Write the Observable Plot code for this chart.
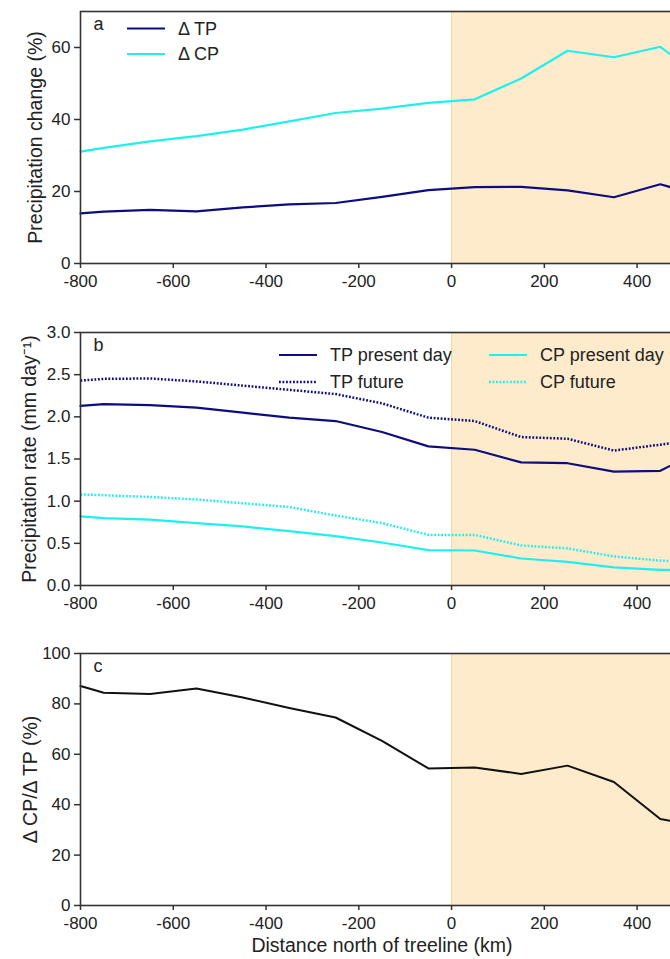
<!DOCTYPE html>
<html>
<head>
<meta charset="utf-8">
<script src="https://cdn.jsdelivr.net/npm/d3@7"></script>
<script src="https://cdn.jsdelivr.net/npm/@observablehq/plot@0.6"></script>
<style>
  html, body { margin: 0; padding: 0; background: #fff; overflow: hidden; width: 670px; height: 959px; }
  #wrap { position: relative; width: 670px; height: 959px; overflow: hidden; font-family: "Liberation Sans", Arial, sans-serif; }
  .panel { position: absolute; left: 0; width: 700px; }
  .panel svg { max-width: none !important; width: 700px; }
  #legend { position: absolute; left: 0; top: 0; pointer-events: none; }
</style>
</head>
<body>
<div id="wrap">
  <div class="panel" id="pa" style="top:0px"></div>
  <div class="panel" id="pb" style="top:300px"></div>
  <div class="panel" id="pc" style="top:620px"></div>
</div>
<script>
// ---------- data ----------
const distance = [-800, -750, -650, -550, -450, -350, -250, -150, -50, 50, 150, 250, 350, 450, 500];

// panel a: precipitation change (%)
const deltaTP = [13.9, 14.4, 14.9, 14.5, 15.6, 16.4, 16.8, 18.5, 20.4, 21.2, 21.3, 20.3, 18.4, 22.0, 20.2];
const deltaCP = [31.1, 32.1, 33.9, 35.4, 37.2, 39.5, 41.8, 43.0, 44.6, 45.6, 51.4, 59.1, 57.3, 60.2, 55.4];

// panel b: precipitation rate (mm/day)
const tpPresent = [2.13, 2.15, 2.14, 2.11, 2.05, 1.99, 1.95, 1.82, 1.65, 1.61, 1.46, 1.45, 1.35, 1.36, 1.50];
const tpFuture  = [2.43, 2.45, 2.455, 2.42, 2.37, 2.32, 2.27, 2.16, 1.99, 1.95, 1.76, 1.74, 1.60, 1.67, 1.71];
const cpPresent = [0.82, 0.80, 0.78, 0.74, 0.70, 0.645, 0.585, 0.51, 0.42, 0.415, 0.32, 0.28, 0.215, 0.185, 0.185];
const cpFuture  = [1.08, 1.07, 1.05, 1.02, 0.975, 0.93, 0.83, 0.74, 0.60, 0.60, 0.475, 0.44, 0.345, 0.295, 0.28];

// panel c: ΔCP/ΔTP (%)
const ratio = [87.1, 84.4, 83.9, 86.1, 82.5, 78.4, 74.6, 65.3, 54.4, 54.8, 52.2, 55.5, 49.0, 34.3, 32.6];

// axes
const xDomain = [-800, 500];
const xTicks = [-800, -600, -400, -200, 0, 200, 400];
const shadeRange = [0, 500];
const yDomainA = [0, 70], yTicksA = [0, 20, 40, 60];
const yDomainB = [0, 3], yTicksB = [0, 0.5, 1.0, 1.5, 2.0, 2.5, 3.0];
const yDomainC = [0, 100], yTicksC = [0, 20, 40, 60, 80, 100];

const NAVY = "#0d0d7e";
const CYAN = "#1ef0f0";
const SHADE = "#fdebcc";
const FRAME = "#333333";
const TEXT = "#222222";
const DOTS = "1.8,1.7";

// ---------- helpers ----------
const rows = (vals) => distance.map((d, i) => ({x: d, y: vals[i]}));
const shade = [{x1: shadeRange[0], x2: shadeRange[1]}];

function panel({height, marginTop, marginBottom, yDomain, yTicks, yFormat, yLabel, yLabelDx, letter, lines, extra = []}) {
  const svg = Plot.plot({
    width: 700,
    height,
    marginLeft: 80,
    marginRight: 17,
    marginTop,
    marginBottom,
    style: {fontFamily: '"Liberation Sans", Arial, sans-serif', fontSize: "17px", color: TEXT, background: "transparent", overflow: "visible", maxWidth: "none"},
    x: {domain: xDomain},
    y: {domain: yDomain},
    marks: [
      Plot.rect(shade, {x1: "x1", x2: "x2", y1: yDomain[0], y2: yDomain[1], fill: SHADE}),
      Plot.ruleX([shadeRange[0]], {stroke: "#f4d6a2", strokeWidth: 1}),
      ...lines,
      Plot.frame({stroke: FRAME, strokeWidth: 1.6}),
      Plot.axisX({ticks: xTicks, tickFormat: d => String(d), tickSize: 5, tickPadding: 6, stroke: FRAME, strokeWidth: 1.5, fontSize: 17, label: null}),
      Plot.axisY({ticks: yTicks, tickFormat: yFormat, tickSize: 6, tickPadding: 4, stroke: FRAME, strokeWidth: 1.5, fontSize: 17, label: null}),
      Plot.text([yLabel], {text: d => d, frameAnchor: "left", rotate: -90, dx: yLabelDx, textAnchor: "middle", lineAnchor: "middle", fontSize: 19.5, fill: TEXT}),
      Plot.text([letter], {text: d => d, frameAnchor: "top-left", dx: 13, dy: 6, textAnchor: "start", lineAnchor: "top", fontSize: 18, fill: TEXT}),
      ...extra
    ]
  });
  svg.style.maxWidth = "none";
  svg.style.width = "700px";
  return svg;
}

const pa = panel({
  height: 300, marginTop: 11, marginBottom: 37,
  yDomain: yDomainA, yTicks: yTicksA, yFormat: d => String(d),
  yLabel: "Precipitation change (%)", yLabelDx: -45, letter: "a",
  lines: [
    Plot.line(rows(deltaCP), {x: "x", y: "y", stroke: CYAN, strokeWidth: 2.2}),
    Plot.line(rows(deltaTP), {x: "x", y: "y", stroke: NAVY, strokeWidth: 2.2})
  ]
});

const pb = panel({
  height: 320, marginTop: 32, marginBottom: 35,
  yDomain: yDomainB, yTicks: yTicksB, yFormat: d => d.toFixed(1),
  yLabel: "Precipitation rate (mm day\u207B\u00B9)", yLabelDx: -51, letter: "b",
  lines: [
    Plot.line(rows(cpFuture), {x: "x", y: "y", stroke: CYAN, strokeWidth: 2.5, strokeDasharray: DOTS, strokeLinecap: "butt"}),
    Plot.line(rows(cpPresent), {x: "x", y: "y", stroke: CYAN, strokeWidth: 2.2}),
    Plot.line(rows(tpFuture), {x: "x", y: "y", stroke: NAVY, strokeWidth: 2.5, strokeDasharray: DOTS, strokeLinecap: "butt"}),
    Plot.line(rows(tpPresent), {x: "x", y: "y", stroke: NAVY, strokeWidth: 2.2})
  ]
});

const pc = panel({
  height: 339, marginTop: 33, marginBottom: 54,
  yDomain: yDomainC, yTicks: yTicksC, yFormat: d => String(d),
  yLabel: "\u0394 CP/\u0394 TP (%)", yLabelDx: -50, letter: "c",
  lines: [
    Plot.line(rows(ratio), {x: "x", y: "y", stroke: "#111", strokeWidth: 2})
  ],
  extra: [
    Plot.text(["Distance north of treeline (km)"], {text: d => d, frameAnchor: "bottom", dy: 40, textAnchor: "middle", lineAnchor: "middle", fontSize: 19.5, fill: TEXT})
  ]
});

document.getElementById("pa").appendChild(pa);
document.getElementById("pb").appendChild(pb);
document.getElementById("pc").appendChild(pc);

// ---------- legends ----------
const legendItems = [
  {label: "\u0394 TP", color: NAVY, dash: null, x: 127, y: 28.5},
  {label: "\u0394 CP", color: CYAN, dash: null, x: 127, y: 54},
  {label: "TP present day", color: NAVY, dash: null, x: 279, y: 355},
  {label: "TP future", color: NAVY, dash: DOTS, x: 279, y: 382},
  {label: "CP present day", color: CYAN, dash: null, x: 489, y: 355},
  {label: "CP future", color: CYAN, dash: DOTS, x: 489, y: 382}
];
const svg = d3.select("#wrap").append("svg")
  .attr("id", "legend").attr("width", 670).attr("height", 959);
const g = svg.selectAll("g").data(legendItems).join("g")
  .attr("transform", d => `translate(${d.x},${d.y})`);
g.append("line").attr("x1", 0).attr("x2", 38).attr("y1", 0).attr("y2", 0)
  .attr("stroke", d => d.color).attr("stroke-width", d => d.dash ? 2.5 : 2.2)
  .attr("stroke-dasharray", d => d.dash);
g.append("text").attr("x", 51).attr("y", 0).attr("dy", "0.35em")
  .attr("font-family", '"Liberation Sans", Arial, sans-serif').attr("font-size", 18)
  .attr("fill", TEXT).text(d => d.label);
</script>
</body>
</html>
